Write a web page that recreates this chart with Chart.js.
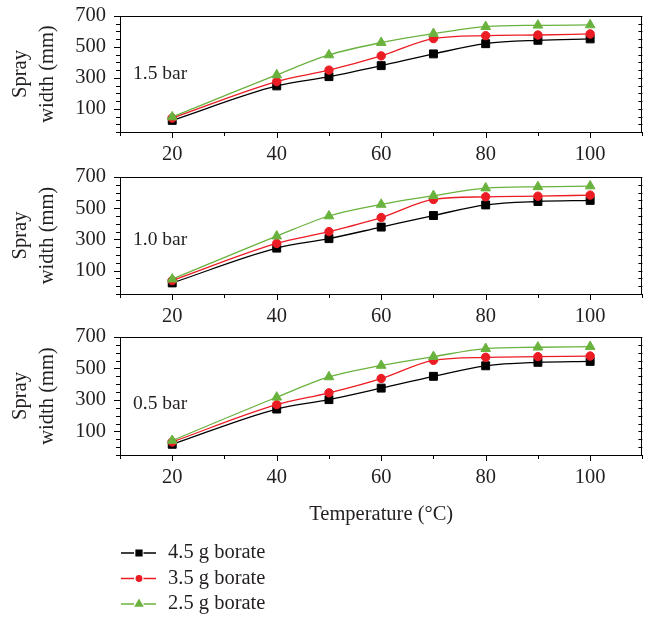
<!DOCTYPE html>
<html>
<head>
<meta charset="utf-8">
<script src="https://cdn.jsdelivr.net/npm/chart.js@4.4.0/dist/chart.umd.min.js"></script>
<style>
  html, body { margin: 0; padding: 0; background: #fff; }
  #wrap { position: relative; width: 649px; height: 618px; overflow: hidden; }
  canvas { position: absolute; left: 0; }
</style>
</head>
<body>
<div id="wrap">
  <canvas id="c1"></canvas>
  <canvas id="c2"></canvas>
  <canvas id="c3"></canvas>
</div>
<script>
const temps = [20, 40, 50, 60, 70, 80, 90, 100]
const seriesNames = ['4.5 g borate', '3.5 g borate', '2.5 g borate']
const pressures = ['1.5 bar', '1.0 bar', '0.5 bar']

// spray width (mm)
const bar15_g45 = [25, 248, 308, 379, 455, 521, 543, 552]
const bar15_g35 = [40, 276, 350, 442, 554, 573, 577, 584]
const bar15_g25 = [47, 319, 448, 528, 586, 631, 640, 642]

const bar10_g45 = [21, 244, 305, 379, 453, 521, 543, 550]
const bar10_g35 = [36, 274, 350, 440, 556, 573, 577, 584]
const bar10_g25 = [45, 321, 450, 524, 580, 629, 637, 642]

const bar05_g45 = [18, 242, 302, 375, 450, 517, 539, 545]
const bar05_g35 = [33, 270, 345, 436, 552, 571, 575, 579]
const bar05_g25 = [42, 317, 446, 519, 575, 626, 635, 639]

const xTickLabels = [20, 40, 60, 80, 100]
const yTickLabels = [100, 300, 500, 700]

const textColor = '#231f20'
const serif = '"Liberation Serif", "Times New Roman", serif'
const colors = ['#000000', '#ec1c24', '#6ab23e']
const shapes = ['rect', 'circle', 'triangle']
const radii = [5.6, 4.2, 5.6]

Chart.defaults.font.family = serif
Chart.defaults.font.size = 20.5
Chart.defaults.color = textColor

// frame, tick marks and the pressure label of each panel
const frameTicks = {
	id: 'frameTicks',
	afterDraw(chart, args, opts) {
		const ctx = chart.ctx
		const a = chart.chartArea
		const xs = chart.scales.x
		const ys = chart.scales.y
		ctx.save()
		ctx.strokeStyle = '#000'
		ctx.lineWidth = 1
		ctx.strokeRect(Math.round(a.left) + 0.5, Math.round(a.top) + 0.5,
			Math.round(a.right - a.left) - 1, Math.round(a.bottom - a.top))
		ctx.beginPath()
		for (let v = -50; v <= 700; v += 50) {
			const y = Math.round(ys.getPixelForValue(v)) + 0.5
			const len = yTickLabels.includes(v) ? 6 : 4
			ctx.moveTo(a.left, y); ctx.lineTo(a.left - len, y)
			ctx.moveTo(a.right, y); ctx.lineTo(a.right - 4, y)
		}
		for (let v = 10; v <= 110; v += 10) {
			const x = Math.round(xs.getPixelForValue(v)) + 0.5
			const len = xTickLabels.includes(v) ? 6 : 4
			ctx.moveTo(x, a.bottom); ctx.lineTo(x, a.bottom + len)
		}
		ctx.stroke()
		ctx.fillStyle = textColor
		ctx.font = '19.5px ' + serif
		ctx.textAlign = 'left'
		ctx.textBaseline = 'middle'
		ctx.fillText(opts.label, a.left + 13, a.top + opts.labelDy)
		ctx.restore()
	}
}

// vertical legend under the last panel
const stackLegend = {
	id: 'stackLegend',
	afterDraw(chart, args, opts) {
		if (!opts.show) return
		const ctx = chart.ctx
		ctx.save()
		chart.data.datasets.forEach((ds, i) => {
			const y = opts.top + i * 25.5
			ctx.strokeStyle = ds.borderColor
			ctx.fillStyle = ds.backgroundColor
			ctx.lineWidth = 1.3
			ctx.beginPath()
			ctx.moveTo(121, y); ctx.lineTo(134, y)
			ctx.moveTo(143.5, y); ctx.lineTo(156, y)
			ctx.stroke()
			Chart.helpers.drawPoint(ctx, {pointStyle: ds.pointStyle, radius: ds.pointRadius - 1.4, rotation: 0, borderWidth: 1}, 139, y)
			ctx.fillStyle = textColor
			ctx.font = '20.5px ' + serif
			ctx.textAlign = 'left'
			ctx.textBaseline = 'middle'
			ctx.fillText(ds.label, 168, y)
		})
		ctx.restore()
	}
}

function noPad(s) {
	s.paddingTop = 0
	s.paddingBottom = 0
	s.paddingLeft = 0
	s.paddingRight = 0
}

function makeDatasets(values) {
	return values.map((v, i) => ({
		label: seriesNames[i],
		data: temps.map((t, j) => ({x: t, y: v[j]})),
		borderColor: colors[i],
		backgroundColor: colors[i],
		borderWidth: 1.3,
		pointStyle: shapes[i],
		pointRadius: radii[i],
		pointBorderWidth: 1,
		cubicInterpolationMode: 'monotone',
		order: 2 - i,
	}))
}

function makePanel(id, top, height, xHeight, padBottom, values, label, labelDy, last) {
	const canvas = document.getElementById(id)
	canvas.width = 649
	canvas.height = height
	canvas.style.top = top + 'px'
	return new Chart(canvas, {
		type: 'line',
		data: {datasets: makeDatasets(values)},
		options: {
			responsive: false,
			animation: false,
			events: [],
			layout: {padding: {top: 16, right: 6, left: 0, bottom: padBottom}},
			plugins: {
				legend: {display: false},
				tooltip: {enabled: false},
				frameTicks: {label: label, labelDy: labelDy},
				stackLegend: {show: last, top: 232},
			},
			scales: {
				x: {
					type: 'linear',
					min: 10,
					max: 110,
					grid: {display: false, drawTicks: false},
					border: {display: false},
					afterBuildTicks: s => { s.ticks = xTickLabels.map(v => ({value: v})) },
					afterFit: s => { s.height = xHeight; noPad(s) },
					ticks: {padding: 10, maxRotation: 0, autoSkip: false},
					title: {
						display: last,
						text: 'Temperature (°C)',
						font: {size: 20.5, lineHeight: 1.2},
						padding: {top: 0, bottom: 2.7},
					},
				},
				y: {
					min: -50,
					max: 700,
					grid: {display: false, drawTicks: false},
					border: {display: false},
					afterBuildTicks: s => { s.ticks = yTickLabels.map(v => ({value: v})) },
					afterFit: s => { s.width = 120; noPad(s) },
					ticks: {padding: 14},
					title: {
						display: true,
						text: ['Spray', 'width (mm)'],
						font: {size: 20.5, lineHeight: 1.32},
						padding: {top: 7.5, bottom: 0},
					},
				},
			},
		},
		plugins: [frameTicks, stackLegend],
	})
}

makePanel('c1', 0, 165, 33, 0, [bar15_g45, bar15_g35, bar15_g25], pressures[0], 58, false)
makePanel('c2', 161, 165, 32, 0, [bar10_g45, bar10_g35, bar10_g25], pressures[1], 63, false)
makePanel('c3', 321, 297, 75, 88, [bar05_g45, bar05_g35, bar05_g25], pressures[2], 67, true)
</script>
</body>
</html>
